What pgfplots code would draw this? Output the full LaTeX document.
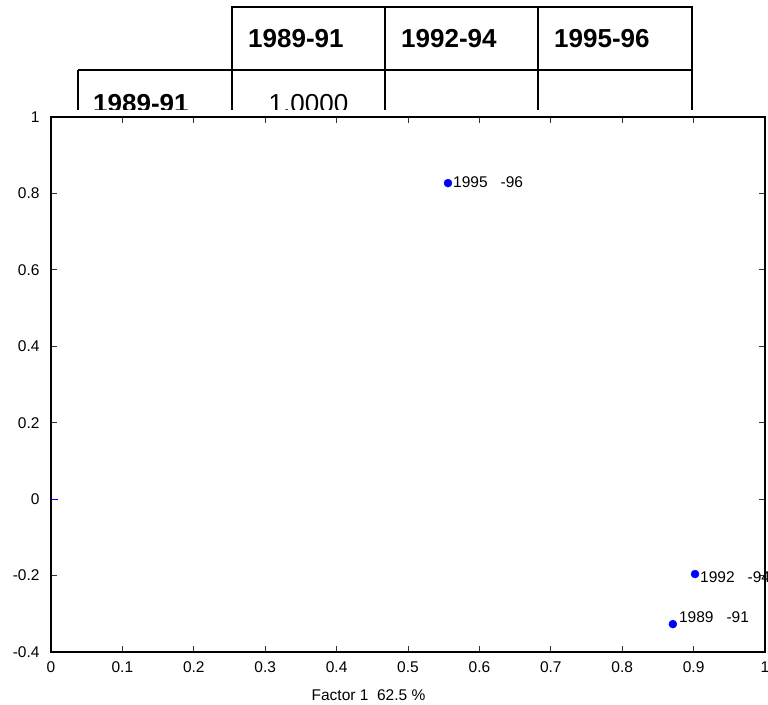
\documentclass[border=0pt]{standalone}
\usepackage{pgfplots}
\pgfplotsset{compat=1.18}
\usepackage{fontspec}
\setmainfont{Liberation Sans}
\begin{document}
\begin{tikzpicture}[x=1pt,y=1pt]
% table partly hidden behind the plot
\begin{scope}
\clip (0,594) rectangle (768,704);
\draw[line width=2.2pt] (232,697) rectangle (692,634);
\draw[line width=2.2pt] (385,697) -- (385,580);
\draw[line width=2.2pt] (538,697) -- (538,580);
\draw[line width=2.2pt] (78,634) -- (692,634);
\draw[line width=2.2pt] (78,634) -- (78,580);
\draw[line width=2.2pt] (232,634) -- (232,580);
\draw[line width=2.2pt] (692,634) -- (692,580);
\node[anchor=west,inner sep=0pt,font=\fontsize{26}{30}\selectfont\bfseries] at (248,665) {1989-91};
\node[anchor=west,inner sep=0pt,font=\fontsize{26}{30}\selectfont\bfseries] at (401,665) {1992-94};
\node[anchor=west,inner sep=0pt,font=\fontsize{26}{30}\selectfont\bfseries] at (554,665) {1995-96};
\node[anchor=base west,inner sep=0pt,font=\fontsize{26}{30}\selectfont\bfseries] at (93,591.5) {1989-91};
\node[anchor=base,inner sep=0pt,font=\fontsize{26}{30}\selectfont] at (308.5,591.5) {1.0000};
\end{scope}
\begin{axis}[
  at={(51pt,52pt)}, anchor=south west,
  scale only axis, width=714pt, height=535pt,
  xmin=0, xmax=1, ymin=-0.4, ymax=1,
  xtick={0,0.1,...,1},
  ytick={-0.4,-0.2,0,0.2,0.4,0.6,0.8,1},
  tick align=inside,
  major tick length=6pt,
  tick style={black!80, line width=0.8pt},
  axis line style={line width=1.4pt},
  axis background/.style={fill=white},
  tick label style={font=\fontsize{15.5}{18}\selectfont},
  /pgf/number format/assume math mode=true,
  xticklabel style={yshift=-6pt},
  yticklabel style={xshift=-8pt},
  clip=false,
]
\draw[blue, line width=1.2pt] (axis cs:0,0) -- (axis cs:0.0098,0);
\addplot[only marks, mark=*, blue, mark size=4pt,
  nodes near coords={1995\hspace{13pt}-96},
  every node near coord/.style={anchor=west, black, font=\fontsize{15.5}{18}\selectfont, inner sep=0pt, xshift=5pt, yshift=1pt}]
  coordinates {(0.556,0.827)};
\addplot[only marks, mark=*, blue, mark size=4pt,
  nodes near coords={1992\hspace{13pt}-94},
  every node near coord/.style={anchor=west, black, font=\fontsize{15.5}{18}\selectfont, inner sep=0pt, xshift=5pt, yshift=-3pt}]
  coordinates {(0.902,-0.196)};
\addplot[only marks, mark=*, blue, mark size=4pt,
  nodes near coords={1989\hspace{13pt}-91},
  every node near coord/.style={anchor=west, black, font=\fontsize{15.5}{18}\selectfont, inner sep=0pt, xshift=6pt, yshift=7pt}]
  coordinates {(0.871,-0.327)};
\end{axis}
\node[font=\fontsize{15.5}{18}\selectfont] at (368.5,8.5) {Factor 1\ \ 62.5 \%};
\pgfresetboundingbox
\useasboundingbox (0,0) rectangle (768,704);
\end{tikzpicture}
\end{document}
